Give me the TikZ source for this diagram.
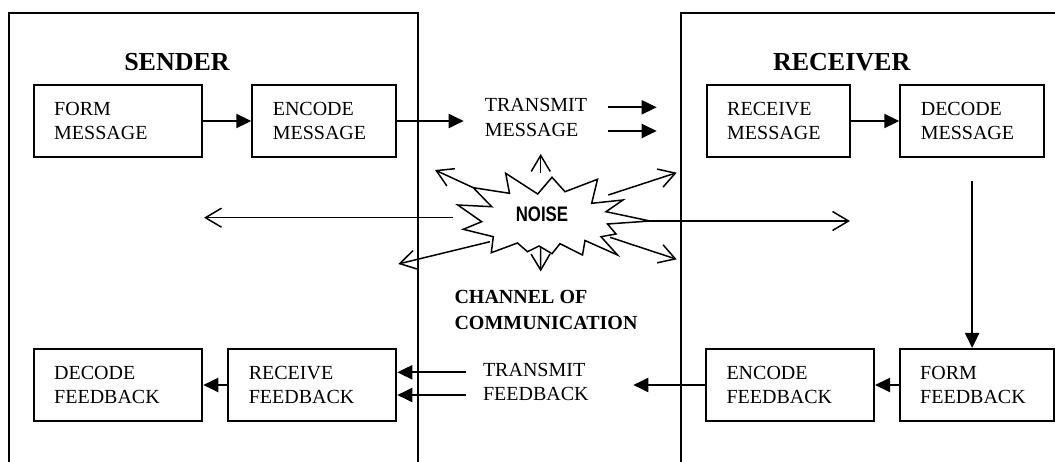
\documentclass[tikz,border=0pt]{standalone}
\usepackage{fontspec}
\usepackage{graphicx}
\setmainfont{Liberation Serif}
\newfontfamily\noisefamily{Liberation Sans}
\usetikzlibrary{arrows.meta,positioning}

\newcommand{\boxfont}{\fontsize{20}{24.7}\selectfont}
\newcommand{\headfont}{\fontsize{26}{30}\selectfont\bfseries}
\newcommand{\chanfont}{\fontsize{20}{26.7}\selectfont\bfseries}
\newcommand{\noisefont}{\fontsize{21}{25}\selectfont\noisefamily\bfseries}

\tikzset{
box/.style={draw, line width=2pt, minimum height=72pt, inner xsep=20.5pt, align=left, font=\boxfont}, % the stage boxes
conn/.style={line width=2pt, -{Triangle[length=15pt,width=14pt]}}, % solid arrows between the stages
burst/.style={line width=1.5pt, -{Straight Barb[length=16pt,width=19pt]}}, % thin arrows thrown out by the noise
sideframe/.style={line width=2pt}, % sender and receiver frames
}

\begin{document}
\begin{tikzpicture}[x=1pt,y=-1pt]
	\useasboundingbox (0,0) rectangle (1055,462);
	% frames
	\draw[sideframe] (9,462) -- (9,12.7) -- (417.7,12.7) -- (417.7,462);
	\draw[sideframe] (681,462) -- (681,12.7) -- (1055,12.7);
	\node[font=\headfont, anchor=base] (sender) at (177,71) {SENDER};
	\node[font=\headfont, anchor=base] (receiver) at (841.7,71) {RECEIVER};

	% message row
	\node[box, text width=127pt, anchor=north west] (fmsg) at (32.7,84) {FORM\\MESSAGE};
	\node[box, text width=103pt, right=48.6pt of fmsg] (emsg) {ENCODE\\MESSAGE};
	\node[box, text width=102.6pt, anchor=north west] (rmsg) at (705.7,84) {RECEIVE\\MESSAGE};
	\node[box, text width=102.7pt, right=48pt of rmsg] (dmsg) {DECODE\\MESSAGE};
	\node[font=\boxfont, align=left, inner xsep=21pt, inner ysep=0pt] (tmsg) at (536,117.6) {TRANSMIT\\MESSAGE};

	% feedback row
	\node[box, text width=127.6pt, anchor=north west] (dfb) at (32.7,348) {DECODE\\FEEDBACK};
	\node[box, text width=127pt, right=24pt of dfb] (rfb) {RECEIVE\\FEEDBACK};
	\node[box, text width=127pt, anchor=north west] (efb) at (705,348) {ENCODE\\FEEDBACK};
	\node[box, text width=113pt, right=23.7pt of efb] (ffb) {FORM\\FEEDBACK};
	\node[font=\boxfont, align=left, inner sep=0pt] (tfb) at (535.8,382.1) {TRANSMIT\\FEEDBACK};

	\node[font=\chanfont, align=left, inner sep=0pt] (channel) at (546,310) {CHANNEL OF\\COMMUNICATION};

	% free ends of the arrows
	\coordinate (tmA) at (656.7,107.3);
	\coordinate (tmB) at (656.7,131);
	\coordinate (tfA) at (465.7,372.3);
	\coordinate (tfB) at (465.7,395);
	\coordinate (tfin) at (633.3,384);

	\draw[conn] (fmsg) -- (emsg);
	\draw[conn] (emsg.east) -- (emsg.east -| tmsg.west);
	\draw[conn] (tmsg.east |- tmA) -- (tmA);
	\draw[conn] (tmsg.east |- tmB) -- (tmB);
	\draw[conn] (rmsg) -- (dmsg);
	\draw[conn, shorten <=23pt] (dmsg.south) -- (dmsg.south |- ffb.north);
	\draw[conn] (ffb) -- (efb);
	\draw[conn] (efb.west) -- (efb.west -| tfin);
	\draw[conn] (tfA) -- (tfA -| rfb.east);
	\draw[conn] (tfB) -- (tfB -| rfb.east);
	\draw[conn] (rfb) -- (dfb);

	% noise burst
	\draw[line width=1.5pt, fill=white] (505.7,173.3) -- (537.7,194) -- (552,177.3) -- (565,191.7)
		-- (597.5,179.3) -- (591.7,203.3) -- (623,200) -- (606,211.7) -- (650,221) -- (607.5,224)
		-- (616,234) -- (601,236.7) -- (617.5,255) -- (585,240.5) -- (582.5,255) -- (560,243.7)
		-- (552,253.7) -- (539,246) -- (527.5,251.7) -- (517.5,243) -- (491.3,252.7) -- (493.3,236.7)
		-- (463.3,229.3) -- (481.7,221.7) -- (457.8,205) -- (491.7,206.7) -- (473.3,187.7)
		-- (509.5,193.3) -- cycle;
	\node[font=\noisefont, inner sep=0pt] (noise) at (542,214) {\scalebox{0.8}[1]{NOISE}};

	\coordinate (nUp) at (540.7,173.5);   \coordinate (tipUp) at (540.7,154);
	\coordinate (nDown) at (540.5,246.5); \coordinate (tipDown) at (540.7,271.5);
	\coordinate (nUL) at (473.3,187.7);   \coordinate (tipUL) at (435,170);
	\coordinate (nLL) at (490,241.7);     \coordinate (tipLL) at (398.3,264);
	\coordinate (nUR) at (608.3,195);     \coordinate (tipUR) at (676.7,172.7);
	\coordinate (nLR) at (610,237.3);     \coordinate (tipLR) at (676.7,259.3);
	\coordinate (nL) at (453.3,217.7);    \coordinate (tipL) at (204,217.7);
	\coordinate (nR) at (650,221);        \coordinate (tipR) at (850,221);
	\foreach \d in {Up,Down,UL,LL,UR,LR,L,R}
		\draw[burst] (n\d) -- (tip\d);
\end{tikzpicture}
\end{document}
